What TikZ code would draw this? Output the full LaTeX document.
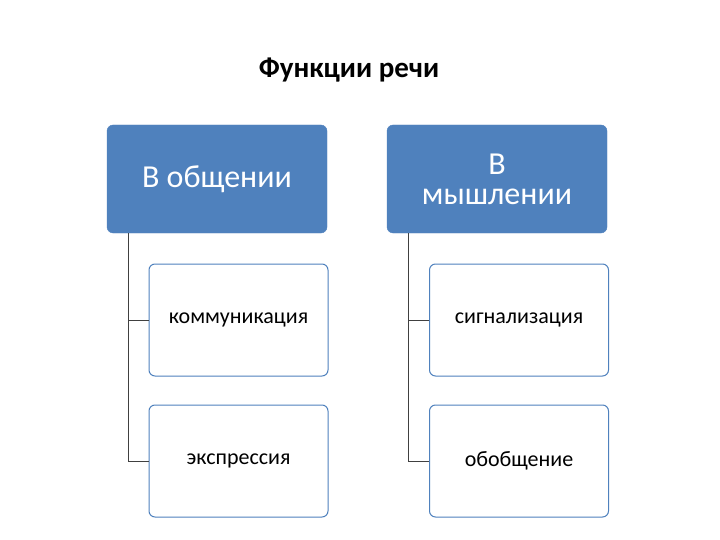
\documentclass[tikz,border=0pt]{standalone}
\usepackage{fontspec}
\setmainfont{Carlito}
\definecolor{sablue}{HTML}{4F81BD}
\begin{document}
\begin{tikzpicture}[x=1pt,y=-1pt,
  parent/.style={draw=sablue,fill=sablue,rounded corners=6pt,minimum width=220pt,minimum height=108pt,text=white,font=\fontsize{32}{34}\selectfont,align=center,inner sep=2pt},
  child/.style={draw=sablue,fill=white,rounded corners=6pt,minimum width=179pt,minimum height=112pt,font=\fontsize{22}{24}\selectfont,line width=1pt},
  conn/.style={draw=black!75,line width=0.8pt}]
\useasboundingbox (0,0) rectangle (720,540);
\node[font=\fontsize{29}{32}\selectfont\bfseries] (title) at (349,70) {Функции речи};
\node[parent] (p1) at (217,179) {В общении};
\node[parent] (p2) at (497,179) {В\\[-4pt]мышлении};
\node[child] (c1) at (238.5,320) {коммуникация};
\node[child] (c2) at (238.5,461) {экспрессия};
\node[child] (c3) at (519,320) {сигнализация};
\node[child] (c4) at (519,461) {обобщение};
\coordinate (a1) at (128,233);
\coordinate (a2) at (408,233);
\draw[conn] (a1) |- (c1.west);
\draw[conn] (a1) |- (c2.west);
\draw[conn] (a2) |- (c3.west);
\draw[conn] (a2) |- (c4.west);
\end{tikzpicture}
\end{document}
